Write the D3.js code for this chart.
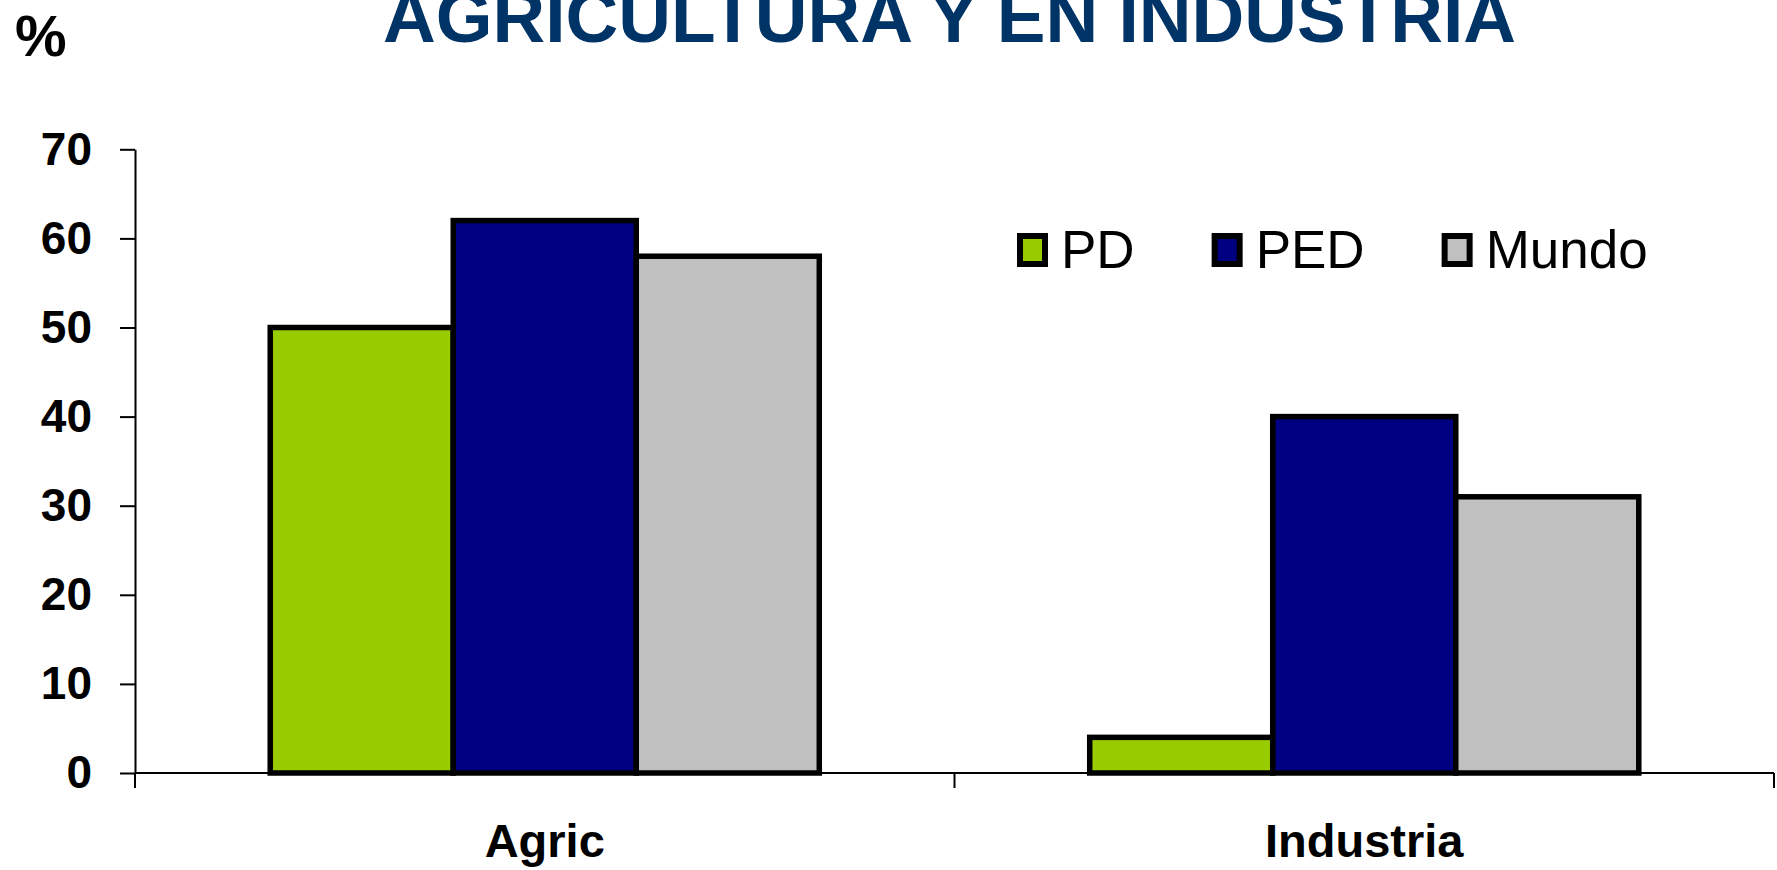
<html>
<meta http-equiv="content-type" content="text/html; charset=UTF8">
<style>
  body {margin:0; background:#fff;}
  text {font-family: "Liberation Sans", Arial, sans-serif;}
</style>
<body>
<svg id="svg1" width="1777" height="870"></svg>

<script src="https://cdn.jsdelivr.net/npm/d3@7"></script>
<script>
var categories=["Agric","Industria"];
var series=["PD","PED","Mundo"];
var colors=["#99cc00","#000080","#c0c0c0"];
var valuesPD=[50,4];
var valuesPED=[62,40];
var valuesMundo=[58,31];
var yTicks=[0,10,20,30,40,50,60,70];
var title="AGRICULTURA Y EN INDUSTRIA";

var values=[valuesPD,valuesPED,valuesMundo];
var svg=d3.select("#svg1");

// plot box (window.top is reserved, so no "top" var)
var plotL=135,plotR=1774,plotT=149.3,plotB=773;

var y=d3.scaleLinear().domain([0,70]).range([plotB,plotT]);
var x=d3.scaleBand().domain(categories).range([plotL,plotR])
	.paddingInner(0.33).paddingOuter(0.165);
var xs=d3.scaleBand().domain(series).range([0,x.bandwidth()]);

// title + unit
svg.append("text").attr("x",949.5).attr("y",42)
	.attr("text-anchor","middle").attr("font-size",73).attr("font-weight","bold")
	.attr("fill","#003366").text(title);
svg.append("text").attr("x",15).attr("y",56)
	.attr("font-size",58).attr("font-weight","bold").text("%");

// y axis
var ya=svg.append("g").attr("transform","translate("+plotL+",0)")
	.call(d3.axisLeft(y).tickValues(yTicks).tickSize(15).tickSizeOuter(0).tickPadding(28));
ya.select(".domain").attr("stroke","#000").attr("stroke-width",2);
ya.selectAll(".tick line").attr("stroke","#000").attr("stroke-width",2);
ya.selectAll(".tick text").attr("font-size",46).attr("font-weight","bold")
	.attr("fill","#000").style("font-family","'Liberation Sans', Arial, sans-serif");

// x axis baseline + category boundary ticks
svg.append("line").attr("x1",plotL).attr("x2",plotR).attr("y1",y(0)).attr("y2",y(0))
	.attr("stroke","#000").attr("stroke-width",2);
var bounds=[plotL].concat(categories.map(function(c){return x(c)-x.step()*x.paddingOuter()+x.step()}));
svg.selectAll(".bound").data(bounds).enter().append("line")
	.attr("x1",function(d){return d}).attr("x2",function(d){return d})
	.attr("y1",y(0)).attr("y2",y(0)+15)
	.attr("stroke","#000").attr("stroke-width",2);

// bars
categories.forEach(function(c,ci){
	series.forEach(function(s,si){
		var v=values[si][ci];
		svg.append("rect")
			.attr("x",x(c)+xs(s)).attr("width",xs.bandwidth())
			.attr("y",y(v)).attr("height",y(0)-y(v))
			.attr("fill",colors[si]).attr("stroke","#000").attr("stroke-width",5.5);
	});
});

// category labels
svg.selectAll(".cat").data(categories).enter().append("text")
	.attr("x",function(d){return x(d)+x.bandwidth()/2}).attr("y",857)
	.attr("text-anchor","middle").attr("font-size",47).attr("font-weight","bold")
	.text(function(d){return d});

// legend
var lx=1017;
series.forEach(function(s,i){
	var g=svg.append("g");
	g.append("rect").attr("x",lx+3).attr("y",236).attr("width",25).attr("height",28)
		.attr("fill",colors[i]).attr("stroke","#000").attr("stroke-width",6);
	var t=g.append("text").attr("x",lx+44).attr("y",268).attr("font-size",53).text(s);
	lx=lx+44+t.node().getComputedTextLength()+77;
});
</script>
</html>
